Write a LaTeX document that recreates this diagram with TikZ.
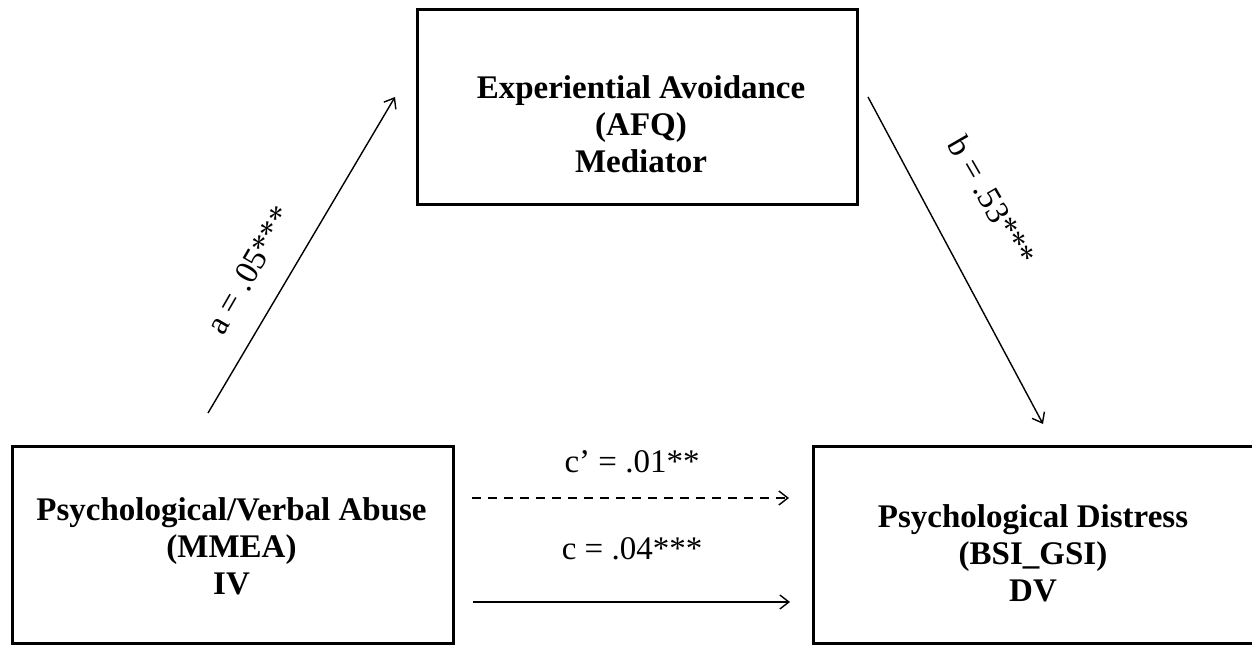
\documentclass[tikz,border=0pt]{standalone}
\usepackage{fontspec}
\setmainfont{Liberation Serif}
\usetikzlibrary{arrows.meta}
\begin{document}
\begin{tikzpicture}[x=1pt,y=1pt,
  varbox/.style={draw=black, line width=3pt, fill=white, minimum width=441pt,
    minimum height=196pt, inner sep=0pt},
  boxtext/.style={font=\fontsize{33}{37}\selectfont\bfseries, align=center, inner sep=0pt},
  linkarrow/.style={line width=1.4pt, -{Straight Barb[length=9pt,width=14pt]}},
  coef/.style={font=\fontsize{33}{37}\selectfont, inner sep=0pt}]
\useasboundingbox (0,0) rectangle (1252,645);
\clip (0,0) rectangle (1252,645);
% variable boxes
\node[varbox, minimum width=440pt, minimum height=195pt] (med) at (637,537.5) {};
\node[boxtext] (medtxt) at (641,521.2) {Experiential Avoidance\\(AFQ)\\Mediator};
\node[varbox] (iv) at (232.5,100) {};
\node[boxtext] (ivtxt) at (231.5,99) {Psychological/Verbal Abuse\\(MMEA)\\IV};
\node[varbox] (dv) at (1033.5,100) {};
\node[boxtext] (dvtxt) at (1033,92) {Psychological Distress\\(BSI\_GSI)\\DV};
% connector end points
\coordinate (aS) at (208,232);
\coordinate (aE) at (395,548);
\coordinate (bS) at (868,548);
\coordinate (bE) at (1043,221);
\coordinate (dS) at (472,147);
\coordinate (dE) at (789,147);
\coordinate (cS) at (473,43);
\coordinate (cE) at (790,43);
% paths
\draw[linkarrow] (aS) -- (aE);
\draw[linkarrow] (bS) -- (bE);
\draw[linkarrow, dash pattern=on 9pt off 7pt] (dS) -- (dE);
\draw[linkarrow] (cS) -- (cE);
% coefficients
\node[coef, rotate=60] (alab) at (249,375) {a = .05***};
\node[coef, rotate=-60] (blab) at (992,444) {b = .53***};
\node[coef] (cplab) at (632,183) {c’ = .01**};
\node[coef] (clab) at (632,96) {c = .04***};
\end{tikzpicture}
\end{document}
